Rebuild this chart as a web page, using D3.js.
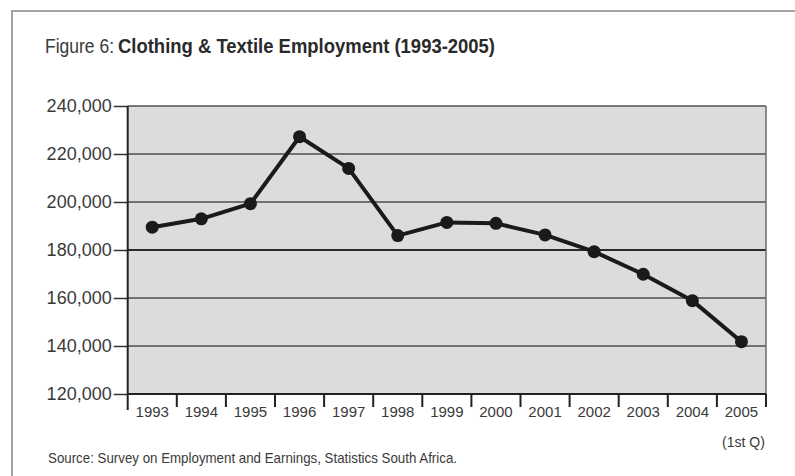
<!DOCTYPE html>
<html>
<head>
<meta charset="utf-8">
<script src="https://cdn.jsdelivr.net/npm/d3@7"></script>
<style>
  body { margin: 0; background: #fff; }
  svg { display: block; font-family: "Liberation Sans", Arial, sans-serif; }
</style>
</head>
<body>
<div id="chart"></div>
<script>
// data
var years = ["1993", "1994", "1995", "1996", "1997", "1998", "1999",
             "2000", "2001", "2002", "2003", "2004", "2005"];
var employment = [189500, 193000, 199300, 227200, 214000, 186000, 191500,
                  191100, 186300, 179300, 169900, 158900, 141800];
var yTicks = [120000, 140000, 160000, 180000, 200000, 220000, 240000];

var W = 795, H = 476;
// plot box (note: "top" is reserved on window, so use plot* names)
var plotLeft = 127.7, plotRight = 766, plotTop = 106, plotBottom = 394;

var svg = d3.select("#chart").append("svg")
    .attr("width", W)
    .attr("height", H);

// outer frame of the figure
svg.append("rect")
    .attr("x", 12).attr("y", 11)
    .attr("width", W).attr("height", H)
    .attr("fill", "none")
    .attr("stroke", "#a3a3a3")
    .attr("stroke-width", 2);

// title
svg.append("text")
    .attr("x", 45).attr("y", 53)
    .attr("font-size", 20)
    .attr("fill", "#3a3a3a")
    .attr("textLength", 69)
    .attr("lengthAdjust", "spacingAndGlyphs")
    .text("Figure 6:");
svg.append("text")
    .attr("x", 118).attr("y", 53)
    .attr("font-size", 20)
    .attr("font-weight", "bold")
    .attr("fill", "#2a2a2a")
    .attr("textLength", 377)
    .attr("lengthAdjust", "spacingAndGlyphs")
    .text("Clothing & Textile Employment (1993-2005)");

var x = d3.scaleBand()
    .domain(years)
    .range([plotLeft, plotRight])
    .padding(0);

var y = d3.scaleLinear()
    .domain([120000, 240000])
    .range([plotBottom, plotTop]);

// plot background
svg.append("rect")
    .attr("x", plotLeft).attr("y", plotTop)
    .attr("width", plotRight - plotLeft).attr("height", plotBottom - plotTop)
    .attr("fill", "#dcdcdf");

// horizontal grid lines
svg.selectAll(".grid")
    .data(yTicks.slice(1))
    .enter().append("line")
    .attr("class", "grid")
    .attr("x1", plotLeft).attr("x2", plotRight)
    .attr("y1", function (d) { return y(d); })
    .attr("y2", function (d) { return y(d); })
    .attr("stroke", function (d) { return d == 180000 ? "#2a2a2a" : "#4f4f4f"; })
    .attr("stroke-width", function (d) { return d == 180000 ? 2 : 1.5; });

// right border of plot
svg.append("line")
    .attr("x1", plotRight).attr("x2", plotRight)
    .attr("y1", plotTop).attr("y2", plotBottom)
    .attr("stroke", "#6a6a6a")
    .attr("stroke-width", 1.5);

// y axis
var yAxis = d3.axisLeft(y)
    .tickValues(yTicks)
    .tickSize(14)
    .tickPadding(2)
    .tickFormat(d3.format(","));

var gy = svg.append("g")
    .attr("transform", "translate(" + plotLeft + ",0)")
    .call(yAxis);
gy.select(".domain").remove();
gy.selectAll(".tick line").attr("stroke", "#333").attr("stroke-width", 1.5);
gy.selectAll(".tick text")
    .attr("font-size", 18)
    .attr("font-family", "Liberation Sans, Arial, sans-serif")
    .attr("fill", "#3a3a3a");

// left axis line, running past the bottom
svg.append("line")
    .attr("x1", plotLeft).attr("x2", plotLeft)
    .attr("y1", plotTop).attr("y2", 410)
    .attr("stroke", "#222")
    .attr("stroke-width", 2);

// x axis: ticks at category boundaries, labels centred
svg.append("line")
    .attr("x1", plotLeft).attr("x2", plotRight)
    .attr("y1", plotBottom).attr("y2", plotBottom)
    .attr("stroke", "#222")
    .attr("stroke-width", 2);

var bounds = years.map(function (d) { return x(d); }).concat([x(years[years.length - 1]) + x.bandwidth()]);
svg.selectAll(".xtick")
    .data(bounds.slice(1))
    .enter().append("line")
    .attr("class", "xtick")
    .attr("x1", function (d) { return d; })
    .attr("x2", function (d) { return d; })
    .attr("y1", plotBottom).attr("y2", 407)
    .attr("stroke", "#222")
    .attr("stroke-width", 2);

svg.selectAll(".xlabel")
    .data(years)
    .enter().append("text")
    .attr("class", "xlabel")
    .attr("x", function (d) { return x(d) + x.bandwidth() / 2; })
    .attr("y", 417)
    .attr("text-anchor", "middle")
    .attr("font-size", 15)
    .attr("fill", "#3a3a3a")
    .text(function (d) { return d; });

svg.append("text")
    .attr("x", x("2005") + x.bandwidth() / 2 + 2)
    .attr("y", 447)
    .attr("text-anchor", "middle")
    .attr("font-size", 14)
    .attr("fill", "#3a3a3a")
    .text("(1st Q)");

// the series
var line = d3.line()
    .x(function (d, i) { return x(years[i]) + x.bandwidth() / 2; })
    .y(function (d) { return y(d); });

svg.append("path")
    .datum(employment)
    .attr("d", line)
    .attr("fill", "none")
    .attr("stroke", "#1a1a1a")
    .attr("stroke-width", 4)
    .attr("stroke-linejoin", "round");

svg.selectAll(".dot")
    .data(employment)
    .enter().append("circle")
    .attr("class", "dot")
    .attr("cx", function (d, i) { return x(years[i]) + x.bandwidth() / 2; })
    .attr("cy", function (d) { return y(d); })
    .attr("r", 6.5)
    .attr("fill", "#1a1a1a");

// source note
svg.append("text")
    .attr("x", 48).attr("y", 463)
    .attr("font-size", 15)
    .attr("fill", "#3a3a3a")
    .attr("textLength", 409)
    .attr("lengthAdjust", "spacingAndGlyphs")
    .text("Source: Survey on Employment and Earnings, Statistics South Africa.");
</script>
</body>
</html>
